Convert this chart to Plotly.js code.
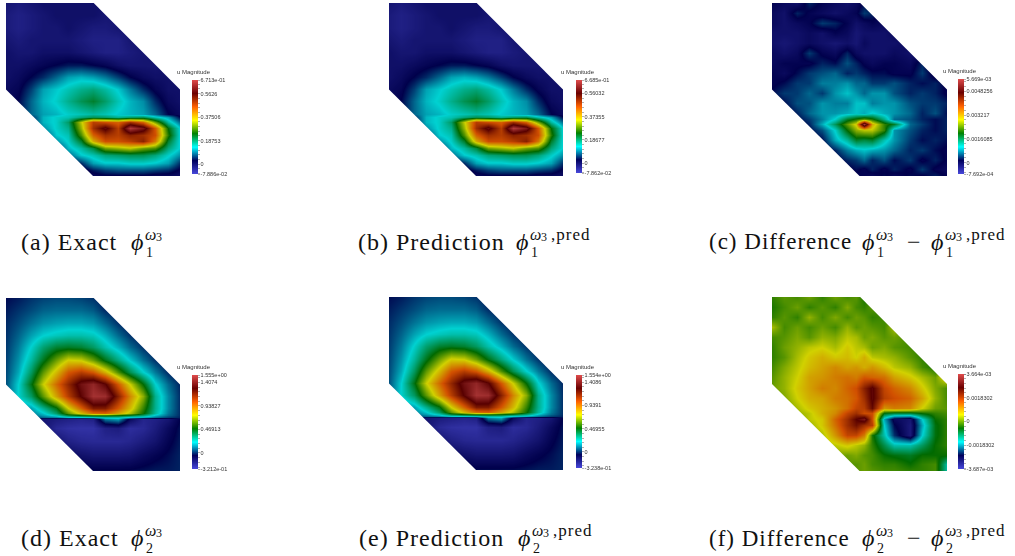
<!DOCTYPE html>
<html>
<head>
<meta charset="utf-8">
<script src="https://cdn.plot.ly/plotly-3.0.1.min.js"></script>
<style>html,body{margin:0;padding:0;background:#fff}#chart{width:1015px;height:556px}</style>
</head>
<body>
<div id="chart"></div>
<script>
// ---- grid nodes (domain units)
const xNodesSmooth = [18,55,93,130,167,204,242,279,316,354,391,428,465,503,540];
const yNodesPhi1 = [9,46,83,120,157,194,231,268,305,342,352,368,385,405,425,445,465,490,510,529];
const yNodesPhi2 = [9,46,83,120,157,194,231,268,305,340,355,362,368,374,400,440,480,529];
const xNodesDiff = [22,59,97,134,172,209,246,272,297,321,358,387,433,470,508,545];
const yNodesDiff = [8,38,68,98,128,158,188,218,248,278,308,338,355,372,390,420,450,480,505,527];

// ---- field phi1 (units of 0.01)
const phi1Exact = [
[-1,-2,-1,0,0,0,0,0,0,0,0,0,0,0,0],
[-2,-3,-2,-1,0,0,0,0,-1,-1,0,0,0,0,0],
[-2,-3,-2,-1,-1,0,-1,-2,-2,-1,0,0,0,0,0],
[-1,-2,-1,-1,-1,-1,-2,-3,-3,-3,-1,0,0,0,0],
[0,-1,-1,0,0,0,-1,-2,-3,-3,-2,-1,0,0,0],
[0,0,1,2,3,4,4,3,2,0,-1,-1,-1,0,0],
[0,1,3,5,8,11,12,11,9,6,3,1,0,0,0],
[1,2,6,11,13,15,17,18,16,13,9,5,2,0,0],
[1,3,8,12,14,17,20,22,19,15,12,10,5,1,0],
[1,3,8,11,12,14,15,16,15,13,12,11,8,3,1],
[1,2,5,12,14,15,18,20,19,17,19,20,15,11,3],
[0,1,4,12,14,19,34,48,46,44,50,44,30,16,8],
[0,1,3,10,14,17,32,50,58,48,66,60,45,24,13],
[0,0,2,6,13,15,28,44,50,48,52,50,46,26,13],
[0,0,1,3,10,14,22,38,46,46,48,52,42,22,13],
[0,0,0,2,5,12,16,21,30,32,34,30,28,18,13],
[0,0,0,0,2,8,13,15,18,19,20,20,18,14,10],
[0,0,0,0,1,2,5,11,13,13,14,14,13,11,5],
[0,0,0,0,0,0,1,4,6,7,7,7,6,5,2],
[0,0,0,0,0,0,0,1,2,2,2,2,1,1,0]
];
// the prediction is indistinguishable from the exact field at this resolution
const phi1Pred = phi1Exact;

// ---- field phi2 (units of 0.01)
const phi2Exact = [
[-4,-2,1,3,4,4,3,1,-3,-5,-5,-5,-5,-5,-5],
[-2,1,4,7,8,8,8,6,0,-3,-5,-5,-5,-5,-5],
[0,4,9,13,15,16,16,14,8,1,-3,-5,-5,-5,-5],
[1,7,15,21,24,26,26,24,17,8,1,-3,-5,-5,-5],
[2,10,22,34,42,44,42,36,26,17,8,1,-3,-5,-5],
[3,13,28,45,62,76,74,62,46,32,20,9,1,-4,-5],
[4,16,36,60,80,100,108,100,82,58,38,22,10,0,-4],
[5,21,46,74,96,116,136,145,130,100,74,48,22,8,-1],
[5,22,36,60,85,108,130,150,148,118,90,66,30,12,0],
[3,10,15,30,46,75,98,120,120,100,80,55,30,12,0],
[3,5,10,20,35,60,80,95,98,85,70,50,28,10,0],
[2,4,8,15,25,42,50,55,55,50,45,35,20,8,0],
[0,-2,2,8,12,20,22,24,28,28,20,18,10,3,-1],
[0,-5,-8,-15,-18,-20,-22,-20,10,15,-10,-22,-20,-15,-5],
[0,-3,-6,-14,-24,-27,-28,-28,-20,-18,-26,-24,-18,-10,-3],
[0,0,-2,-5,-14,-20,-23,-24,-24,-24,-22,-18,-14,-7,-2],
[0,0,-1,-2,-4,-10,-13,-15,-15,-15,-14,-10,-7,-4,-1],
[0,0,0,0,-1,-2,-3,-4,-4,-4,-4,-3,-2,-2,-1]
];
const phi2Pred = phi2Exact;

// ---- differences (units of 1e-4)
const phi1Diff = [
[1,0,-1,3,1,0,-1,0,2,1,-1,-1,-1,-1,-1,-1],
[0,-1,3,1,0,-1,0,1,4,3,-1,-1,-1,-1,-1,-1],
[0,-1,0,1,4,3,1,-1,0,1,0,-1,-1,-1,-1,-1],
[-1,-1,-1,0,-1,1,0,-2,-1,-1,-1,0,-1,-1,-1,-1],
[-1,-2,-1,0,-1,-2,-1,-2,0,-1,-1,-1,0,-1,-1,-1],
[0,-1,0,4,1,0,3,0,-1,-1,-1,0,-1,-1,-1,-1],
[0,1,1,1,3,2,5,3,1,0,1,1,0,3,-1,-1],
[1,0,2,4,5,6,3,4,3,2,2,1,1,4,0,0],
[1,2,4,4,7,7,8,6,6,4,4,5,3,2,3,1],
[2,4,4,6,4,8,10,8,6,8,8,5,3,4,3,1],
[1,2,5,5,8,7,7,10,10,7,8,8,5,4,4,3],
[0,1,3,6,8,8,9,10,9,11,9,8,6,3,5,2],
[0,0,2,4,7,11,18,21,24,21,14,6,5,3,2,3],
[0,0,1,3,9,16,24,30,55,32,22,18,6,4,2,3],
[0,0,0,2,5,11,20,26,28,28,22,8,5,3,2,3],
[0,0,0,1,2,9,13,18,17,18,12,8,4,2,3,2],
[0,0,0,0,1,3,7,9,10,9,8,6,3,4,2,1],
[0,0,0,0,0,1,3,4,6,3,5,2,4,1,3,1],
[0,0,0,0,0,0,1,2,1,3,1,3,1,4,1,0],
[0,0,0,0,0,0,0,1,1,0,2,0,2,1,3,1]
];
const phi2Diff = [
[-3,-1,-2,0,-3,0,-2,-1,-4,-2,-3,-3,-3,-3,-3,-3],
[-4,-2,0,-3,-1,-3,1,-2,-3,-1,-3,-3,-3,-3,-3,-3],
[-3,-1,-3,2,-2,1,-2,0,-1,-3,-2,-3,-3,-3,-3,-3],
[3,-2,0,-2,0,-2,2,-1,0,-1,-2,3,-3,-3,-3,-3],
[-2,-1,1,-1,2,1,4,3,0,1,-1,0,-2,-3,-3,-3],
[-3,0,2,4,5,3,6,4,3,0,1,-1,-2,-3,-3,-3],
[-3,-1,3,6,8,6,7,5,8,4,3,2,-1,-3,-3,-3],
[-2,1,4,7,9,11,9,10,8,10,7,4,2,-2,-4,0],
[-1,2,5,9,10,12,13,12,15,14,13,9,6,3,0,8],
[0,2,6,9,12,11,14,16,22,27,17,14,11,6,1,-2],
[-1,1,5,8,9,12,13,15,20,27,18,16,14,9,2,-2],
[-2,0,3,6,8,10,13,17,18,25,10,12,11,5,0,-1],
[-3,-1,2,4,8,11,17,20,16,16,-6,-8,-8,-5,-3,-2],
[-3,-1,0,4,6,14,20,26,30,16,-18,-28,-30,-16,-5,-3],
[-2,0,0,2,6,13,20,24,20,18,-16,-26,-31,-18,-6,-3],
[-2,-1,0,2,3,10,17,17,12,-4,-14,-24,-31,-16,-6,-3],
[-2,-2,1,1,2,4,6,4,2,-3,-9,-14,-14,-10,-5,-3],
[-2,-2,-1,0,1,1,0,1,-1,-2,-5,-6,-7,-5,-5,-5],
[-2,-2,-1,-1,-2,-1,-1,-1,0,-2,-3,-3,-5,-3,-2,-14],
[-2,-2,-1,-1,-1,-1,-1,-1,0,-1,-2,-2,-3,-3,-2,-14]
];

// ---- colour-bar ranges and tick labels
const unitsCentesimal = 0.01, unitsDiff = 1e-4;
const barRanges = [[-0.07886,0.6713],[-0.07862,0.6685],[-7.692e-4,5.669e-3],[-0.3212,1.555],[-0.3238,1.554],[-3.687e-3,3.664e-3]];
const barTicks = [
 [0,0.18753,0.37506,0.5626],
 [0,0.18677,0.37355,0.56032],
 [0,0.0016085,0.0032170,0.0048256],
 [0,0.46913,0.93827,1.4074],
 [0,0.46955,0.9391,1.4086],
 [-0.0018302,0,0.0018302]
];
const barTickText = [
 ['0','0.18753','0.37506','0.5626'],
 ['0','0.18677','0.37355','0.56032'],
 ['0','0.0016085','0.003217','0.0048256'],
 ['0','0.46913','0.93827','1.4074'],
 ['0','0.46955','0.9391','1.4086'],
 ['-0.0018302','0','0.0018302']
];
const barMinText = ['-7.886e-02','-7.862e-02','-7.692e-04','-3.212e-01','-3.238e-01','-3.687e-03'];
const barMaxText = ['6.713e-01','6.685e-01','5.669e-03','1.555e+00','1.554e+00','3.664e-03'];
const barTitle = 'u Magnitude';

// ---- ParaView "rainbow desaturated"
const rainbow = [[0,'rgb(71,71,219)'],[0.143,'rgb(0,0,92)'],[0.285,'rgb(0,255,255)'],[0.429,'rgb(0,128,0)'],
 [0.571,'rgb(255,255,0)'],[0.714,'rgb(255,97,0)'],[0.857,'rgb(107,0,0)'],[1,'rgb(224,76,76)']];

// ---- panel boxes in page pixels: left, right, top, bottom, colour-bar left, bar top, bar bottom
const panelBox = [
 [6,180,3,176,192,80,174],
 [389,563,3,176,576,80,173],
 [772,947,3,176,958,79,174],
 [6,180,298,471,192,375,469],
 [389,563,297,470,576,375,468],
 [772,947,297,471,958,374,469]
];
const W = 1015, H = 556;
const panelFields = [
 [phi1Exact,xNodesSmooth,yNodesPhi1,unitsCentesimal],
 [phi1Pred,xNodesSmooth,yNodesPhi1,unitsCentesimal],
 [phi1Diff,xNodesDiff,yNodesDiff,unitsDiff],
 [phi2Exact,xNodesSmooth,yNodesPhi2,unitsCentesimal],
 [phi2Pred,xNodesSmooth,yNodesPhi2,unitsCentesimal],
 [phi2Diff,xNodesDiff,yNodesDiff,unitsDiff]
];

const data = [], layout = {
  width:W, height:H, margin:{l:0,r:0,t:0,b:0}, paper_bgcolor:'#fff', plot_bgcolor:'#fff',
  showlegend:false, shapes:[], annotations:[], font:{family:'Liberation Sans'}
};

panelBox.forEach((b,i)=>{
  const [field,xs,ys,unit] = panelFields[i];
  const [zmin,zmax] = barRanges[i];
  const n = i+1, sfx = n===1?'':String(n);
  const x0=xs[0], x1=xs[xs.length-1], y0=ys[0], y1=ys[ys.length-1];
  // minor tick marks every fifth of a labelled interval
  const step = (barTicks[i][barTicks[i].length-1]-barTicks[i][barTicks[i].length-2])/5;
  const vals=[], txt=[];
  for(let k=Math.ceil(zmin/step);k*step<zmax;k++){ vals.push(k*step); txt.push(' '); }
  barTicks[i].forEach((v,j)=>{
    const idx = vals.findIndex(u=>Math.abs(u-v)<step/2);
    if(idx>=0){vals[idx]=v;txt[idx]=barTickText[i][j];}
  });
  vals.push(zmin,zmax); txt.push(barMinText[i],barMaxText[i]);
  data.push({
    type:'heatmap', xaxis:'x'+sfx, yaxis:'y'+sfx, x:xs, y:ys,
    z:field.map(r=>r.map(v=>v*unit)), zmin:zmin, zmax:zmax, zsmooth:'best',
    colorscale:rainbow, hoverinfo:'skip',
    colorbar:{ x:b[4]/W, xanchor:'left', xpad:0, ypad:0, y:1-(b[5]+b[6])/2/H, yanchor:'middle',
      lenmode:'pixels', len:b[6]-b[5], thicknessmode:'pixels', thickness:6, outlinewidth:0, borderwidth:0,
      tickmode:'array', tickvals:vals, ticktext:txt, ticks:'outside', ticklen:2, tickwidth:0.5, tickcolor:'#666',
      tickfont:{size:5.5,color:'#333',family:'Liberation Sans'} }
  });
  layout['xaxis'+sfx] = {domain:[b[0]/W,b[1]/W], range:[x0,x1], visible:false, fixedrange:true};
  layout['yaxis'+sfx] = {domain:[1-b[3]/H,1-b[2]/H], range:[y1,y0], visible:false, fixedrange:true};
  // white corners that cut the square down to the hexagonal domain
  const xm=(x0+x1)/2, ym=(y0+y1)/2;
  layout.shapes.push(
    {type:'path',xref:'x'+sfx,yref:'y'+sfx,path:`M${xm},${y0-2}L${x1+2},${y0-2}L${x1+2},${ym}L${x1},${ym}Z`,fillcolor:'#fff',line:{width:0},layer:'above'},
    {type:'path',xref:'x'+sfx,yref:'y'+sfx,path:`M${x0-2},${ym}L${x0},${ym}L${xm},${y1}L${xm},${y1+2}L${x0-2},${y1+2}Z`,fillcolor:'#fff',line:{width:0},layer:'above'}
  );
  layout.annotations.push({xref:'paper',yref:'paper',x:(b[4]+2)/W,y:1-(b[5]-8)/H,xanchor:'center',yanchor:'middle',
    text:barTitle,showarrow:false,font:{size:6,color:'#333',family:'Liberation Sans'}});
});

// ---- captions
const serif = 'Liberation Serif';
function put(text,x,y,size,italic){
  layout.annotations.push({xref:'paper',yref:'paper',x:x/W,y:1-y/H,xanchor:'left',yanchor:'middle',align:'left',showarrow:false,
    text:text,font:{family:serif,size:size,color:'#111',style:italic?'italic':'normal'},borderpad:0});
}
function phi(x,y,sub,pred){
  put('ϕ',x,y,24,true);
  put(sub,x+15,y+10,14);
  put('ω',x+14,y-8,16,true);
  put('3',x+25,y-5,12);
  if(pred) put(',pred',x+35,y-8,17);
}
const captionRows = [242,538];
const captionText = [['(a) Exact','(b) Prediction','(c) Difference'],['(d) Exact','(e) Prediction','(f) Difference']];
const captionSize = [24,24,23];
const captionX = [[20,357,708],[20,358,708]];
const phiX = [[130,515,861],[130,517,861]];
captionRows.forEach((y,r)=>{
  const sub = String(r+1);
  [0,1,2].forEach(c=>{
    put(captionText[r][c],captionX[r][c],y,captionSize[c]);
    phi(phiX[r][c],y,sub,c===1);
    if(c===2){ put('−',906,y,24); phi(930,y,sub,true); }
  });
});

Plotly.newPlot('chart',data,layout,{displayModeBar:false,staticPlot:true}).then(()=>{
  document.querySelectorAll('.heatmaplayer').forEach(g=>{g.style.filter='blur(0.6px) brightness(0.82)';});
  document.querySelectorAll('.colorbar,.shapelayer').forEach(g=>{g.style.filter='blur(0.5px)';});
  document.querySelectorAll('.annotation-text').forEach(t=>{
    if(t.style.fontFamily.indexOf('Serif')>=0) t.style.letterSpacing='1px';
  });
});
</script>
</body>
</html>
